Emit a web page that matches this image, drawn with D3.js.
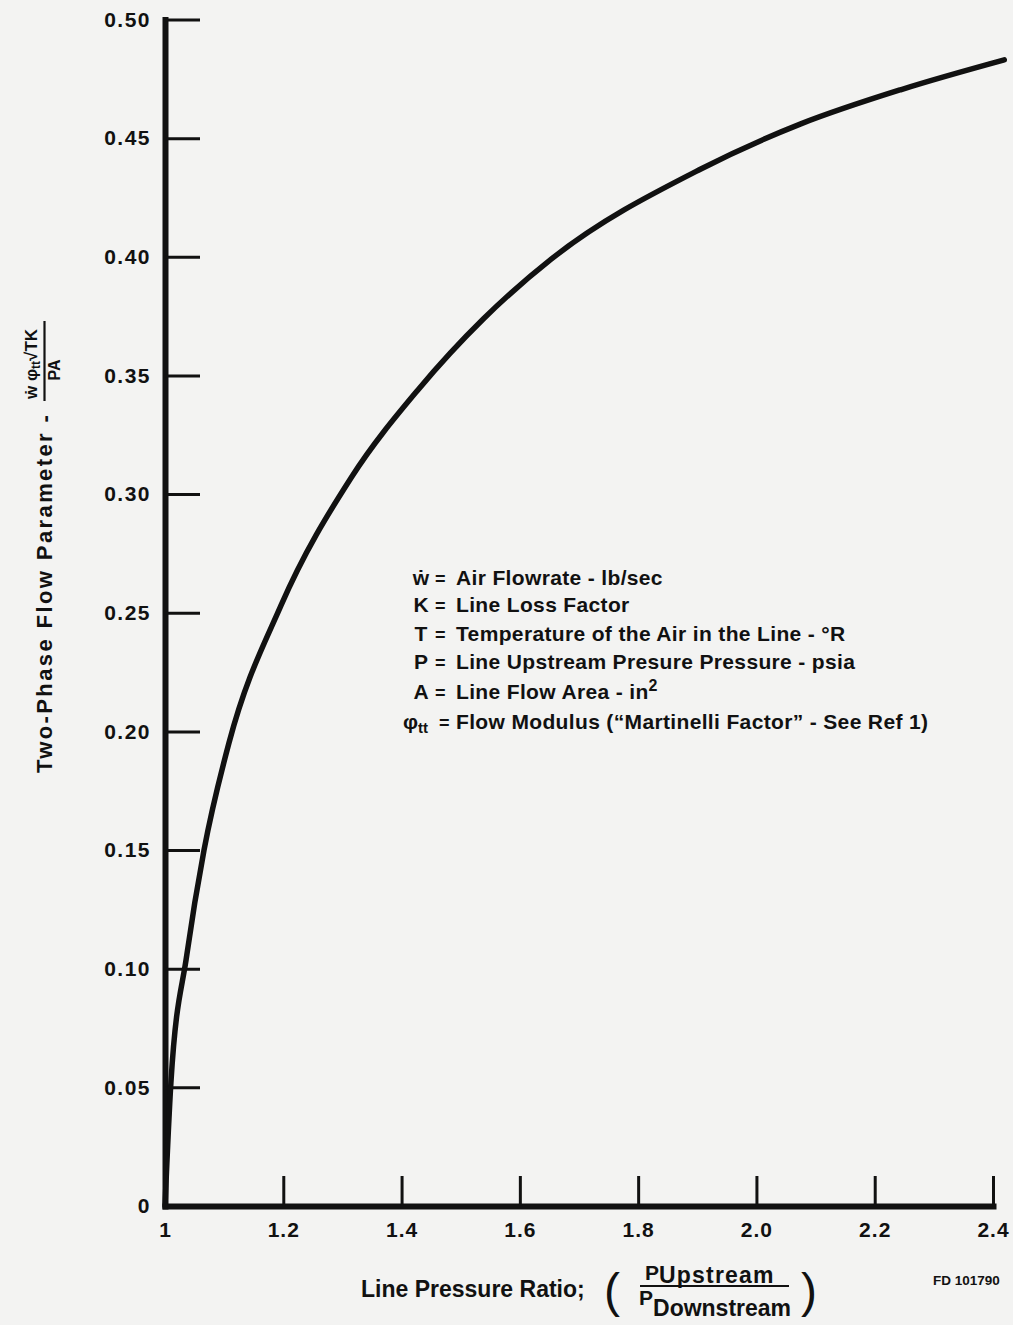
<!DOCTYPE html>
<html>
<head>
<meta charset="utf-8">
<script src="https://cdn.jsdelivr.net/npm/d3@7"></script>
<style>
  html, body { margin: 0; padding: 0; background: #f3f3f2; }
  svg { display: block; }
  text { font-family: "Liberation Sans", Arial, Helvetica, sans-serif; font-weight: bold; fill: #111; }
</style>
</head>
<body>
<svg id="chart" width="1013" height="1325"></svg>
<script>
// Line pressure ratio (upstream / downstream)
const pressureRatio = [1.000, 1.010, 1.037, 1.066, 1.108, 1.196, 1.315, 1.428, 1.539, 1.653, 1.906, 2.075, 2.245, 2.419];
// Two-phase flow parameter
const flowParameter = [0.000, 0.052, 0.106, 0.150, 0.195, 0.253, 0.307, 0.344, 0.374, 0.399, 0.437, 0.456, 0.4705, 0.483];

const xTicks = [1, 1.2, 1.4, 1.6, 1.8, 2.0, 2.2, 2.4];
const xTickLabels = ["1", "1.2", "1.4", "1.6", "1.8", "2.0", "2.2", "2.4"];
const yTicks = [0, 0.05, 0.10, 0.15, 0.20, 0.25, 0.30, 0.35, 0.40, 0.45, 0.50];
const yTickLabels = ["0", "0.05", "0.10", "0.15", "0.20", "0.25", "0.30", "0.35", "0.40", "0.45", "0.50"];

const legendSymbols = ["ẇ", "K", "T", "P", "A", "φ"];
const legendTexts = [
  "Air Flowrate - lb/sec",
  "Line Loss Factor",
  "Temperature of the Air in the Line - °R",
  "Line Upstream Presure Pressure - psia",
  "Line Flow Area - in",
  "Flow Modulus (“Martinelli Factor” - See Ref 1)"
];

const ink = "#111";
const svg = d3.select("#chart");

const x = d3.scaleLinear().domain([1, 2.4]).range([165, 993]);
const y = d3.scaleLinear().domain([0, 0.5]).range([1206, 19.5]);

// Y axis with inward ticks
const yAxis = svg.append("g")
  .attr("transform", `translate(${x(1)},0)`)
  .call(d3.axisLeft(y).tickValues(yTicks)
    .tickFormat((d, i) => yTickLabels[i])
    .tickSizeInner(-35).tickSizeOuter(0).tickPadding(14));
yAxis.select(".domain").attr("stroke", ink).attr("stroke-width", 6).attr("stroke-linecap", "square");
yAxis.selectAll(".tick line").attr("stroke", ink).attr("stroke-width", 3)
  .filter(d => d === 0).remove();
yAxis.selectAll(".tick text").attr("fill", ink)
  .style("font-size", "21px").style("letter-spacing", "1.5px");

// X axis with inward ticks
const xAxis = svg.append("g")
  .attr("transform", `translate(0,${y(0)})`)
  .call(d3.axisBottom(x).tickValues(xTicks)
    .tickFormat((d, i) => xTickLabels[i])
    .tickSizeInner(-30).tickSizeOuter(0).tickPadding(16));
xAxis.select(".domain").attr("stroke", ink).attr("stroke-width", 6).attr("stroke-linecap", "square");
xAxis.selectAll(".tick line").attr("stroke", ink).attr("stroke-width", 3)
  .filter(d => d === 1).remove();
xAxis.selectAll(".tick text").attr("fill", ink)
  .style("font-size", "21px").style("letter-spacing", "1px");

// Flow parameter curve
const line = d3.line()
  .x((d, i) => x(pressureRatio[i]))
  .y(d => y(d))
  .curve(d3.curveMonotoneX);
svg.append("path")
  .datum(flowParameter)
  .attr("d", line)
  .attr("fill", "none")
  .attr("stroke", ink)
  .attr("stroke-width", 5.5)
  .attr("stroke-linecap", "round");

// Legend of symbols
const legend = svg.append("g");
const rowY = [585, 612, 641, 669, 699, 729];
legendSymbols.forEach((s, i) => {
  const t = legend.append("text").attr("y", rowY[i]).style("font-size", "21px");
  if (i === 5) {
    t.attr("x", 403).text("φ");
    t.append("tspan").attr("dy", 4).style("font-size", "15px").text("tt");
  } else {
    t.attr("x", 421).attr("text-anchor", "middle").text(s);
  }
  legend.append("text").attr("x", i === 5 ? 439 : 435).attr("y", rowY[i])
    .style("font-size", "18px").text("=");
  const d = legend.append("text").attr("x", 456).attr("y", rowY[i]).style("font-size", "21px")
    .style("letter-spacing", "0.35px");
  d.append("tspan").text(legendTexts[i]);
  if (i === 4) d.append("tspan").attr("dy", -8).style("font-size", "16px").text("2");
});

// Y axis title (rotated; local x runs upward, local y runs rightward)
const yTitle = svg.append("g").attr("transform", "rotate(-90)");
yTitle.append("text").attr("x", -773).attr("y", 52)
  .style("font-size", "22px").style("letter-spacing", "2.4px")
  .text("Two-Phase Flow Parameter -");
const numer = yTitle.append("text").attr("x", -399).attr("y", 37).style("font-size", "17px");
numer.append("tspan").text("ẇ ");
numer.append("tspan").text("φ");
numer.append("tspan").attr("dy", 3).style("font-size", "12px").text("tt");
numer.append("tspan").attr("dy", -3).text("√TK");
yTitle.append("line").attr("x1", -401).attr("x2", -321).attr("y1", 44.5).attr("y2", 44.5)
  .attr("stroke", ink).attr("stroke-width", 2.2);
yTitle.append("text").attr("x", -370).attr("y", 60).attr("text-anchor", "middle")
  .style("font-size", "16px").text("PA");

// X axis title
svg.append("text").attr("x", 361).attr("y", 1297).style("font-size", "23px")
  .text("Line Pressure Ratio;");
svg.append("text").attr("x", 612).attr("y", 1307).attr("text-anchor", "middle")
  .style("font-size", "48px").style("font-weight", "normal").text("(");
svg.append("text").attr("x", 809).attr("y", 1307).attr("text-anchor", "middle")
  .style("font-size", "48px").style("font-weight", "normal").text(")");
const up = svg.append("text").attr("x", 645).attr("y", 1280).style("font-size", "21px");
up.append("tspan").text("P");
up.append("tspan").attr("dy", 3).style("font-size", "23px").style("letter-spacing", "1.2px").text("Upstream");
svg.append("line").attr("x1", 640).attr("x2", 789).attr("y1", 1286).attr("y2", 1286)
  .attr("stroke", ink).attr("stroke-width", 2);
const down = svg.append("text").attr("x", 639).attr("y", 1305).style("font-size", "21px");
down.append("tspan").text("P");
down.append("tspan").attr("dy", 11).style("font-size", "23px").text("Downstream");

svg.append("text").attr("x", 933).attr("y", 1285).style("font-size", "13.5px").text("FD 101790");
</script>
</body>
</html>
